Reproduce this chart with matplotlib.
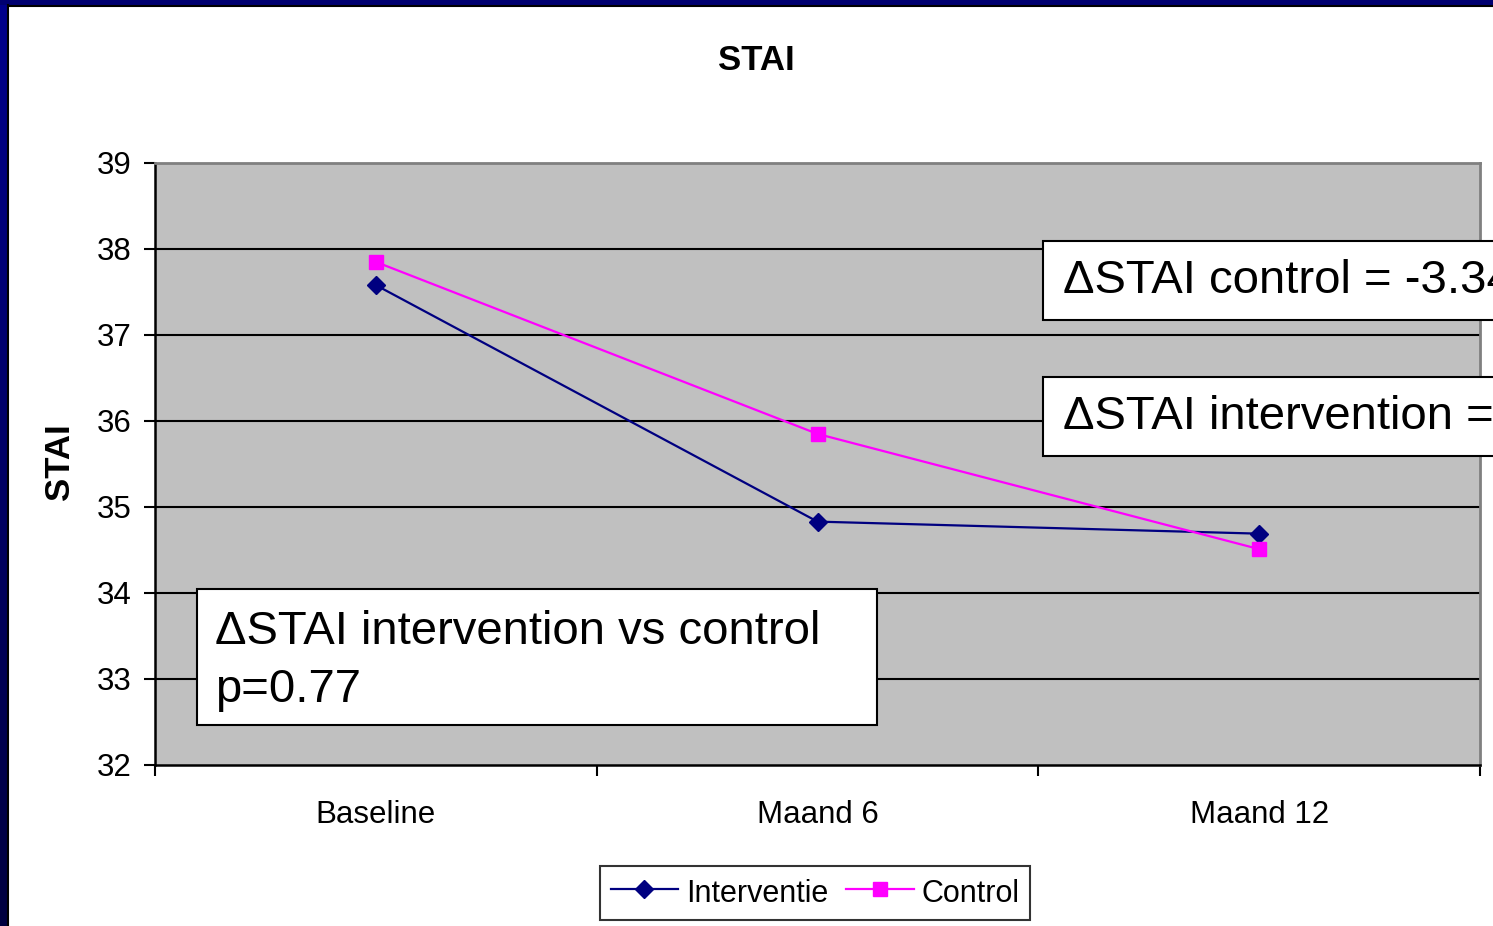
import matplotlib.pyplot as plt
import numpy as np
from matplotlib.patches import Rectangle
from matplotlib.colors import LinearSegmentedColormap

plt.rcParams['font.family'] = ['Liberation Sans', 'DejaVu Sans']

# STAI scores per time point
categories = ['Baseline', 'Maand 6', 'Maand 12']
interventie = [37.58, 34.83, 34.69]
control = [37.85, 35.85, 34.51]

delta_control = control[-1] - control[0]
delta_interventie = interventie[-1] - interventie[0]
p_value = 0.77

W, H = 1493, 926
fig = plt.figure(figsize=(W / 100, H / 100), dpi=100, facecolor='white')


def fx(px):
    return px / W


def fy(py):
    return 1 - py / H


# dark blue slide frame on the left and top
grad = np.linspace(0, 1, 256).reshape(-1, 1)
left_strip = fig.add_axes([0, 0, fx(7), 1])
left_strip.imshow(grad, aspect='auto', extent=[0, 1, 0, 1],
                  cmap=LinearSegmentedColormap.from_list('frame', ['#00008c', '#000040']))
left_strip.axis('off')
fig.add_artist(Rectangle((0, fy(5)), 1, 5 / H, transform=fig.transFigure,
                         facecolor='#000070', edgecolor='none'))
fig.add_artist(plt.Line2D([fx(8), fx(8)], [0, fy(5)], color='black', lw=1.5))
fig.add_artist(plt.Line2D([fx(8), 1], [fy(5.5), fy(5.5)], color='black', lw=1.5))

ax = fig.add_axes([fx(155), fy(765), fx(1480 - 155), (765 - 163) / H])
ax.set_facecolor('#c0c0c0')
x = np.arange(len(categories))

ax.plot(x, interventie, color='#000080', lw=1.6, marker='D', ms=9,
        mfc='#000080', mec='#000080', label='Interventie', zorder=3)
ax.plot(x, control, color='#ff00ff', lw=1.6, marker='s', ms=10,
        mfc='#ff00ff', mec='#ff00ff', label='Control', zorder=3)

ax.set_xlim(-0.5, 2.5)
ax.set_ylim(32, 39)
ax.set_yticks(range(32, 40))
ax.tick_params(axis='y', labelsize=22.5, length=8, width=1.5, pad=9, direction='out')
ax.set_xticks([-0.5, 0.5, 1.5, 2.5])
ax.set_xticklabels([])
ax.tick_params(axis='x', which='major', length=8, width=1.5, direction='out')
ax.set_xticks(x, minor=True)
ax.set_xticklabels(categories, minor=True)
ax.tick_params(axis='x', which='minor', length=0, labelsize=22.5, pad=25)

for yv in range(33, 39):
    ax.axhline(yv, color='black', lw=1.5, zorder=1)

for side in ('left', 'bottom'):
    ax.spines[side].set_color('black')
    ax.spines[side].set_linewidth(1.8)
for side in ('top', 'right'):
    ax.spines[side].set_color('#808080')
    ax.spines[side].set_linewidth(2)

fig.text(fx(756), fy(61), 'STAI', ha='center', va='center', fontsize=25, fontweight='bold')
fig.text(fx(60), fy(462), 'STAI', ha='center', va='center', rotation=90,
         fontsize=25, fontweight='bold')

leg = ax.legend(loc='center', bbox_to_anchor=(fx(815), fy(893)), bbox_transform=fig.transFigure,
                ncol=2, fontsize=22, frameon=True, fancybox=False, handlelength=2.2,
                handleheight=1.15, handletextpad=0.25, columnspacing=0.6, borderpad=0.35,
                edgecolor='black')
leg.get_frame().set_linewidth(1.5)


# annotation boxes
def note_box(x0, y0, x1, y1):
    fig.add_artist(Rectangle((fx(x0), fy(y1)), fx(x1 - x0), (y1 - y0) / H,
                             transform=fig.transFigure, facecolor='white',
                             edgecolor='black', lw=1.5, zorder=5))


note_box(1043, 241, 1700, 320)
fig.text(fx(1063), fy(281), '\u0394STAI control = %.2f' % delta_control,
         va='center', ha='left', fontsize=34, zorder=6)
note_box(1043, 377, 1700, 456)
fig.text(fx(1063), fy(417), '\u0394STAI intervention = %.2f' % delta_interventie,
         va='center', ha='left', fontsize=34, zorder=6)
note_box(197, 589, 877, 725)
fig.text(fx(215), fy(661), '\u0394STAI intervention vs control\np=%.2f' % p_value,
         va='center', ha='left', fontsize=34, linespacing=1.4, zorder=6)

fig.savefig('out.png', dpi=100, facecolor='white')
